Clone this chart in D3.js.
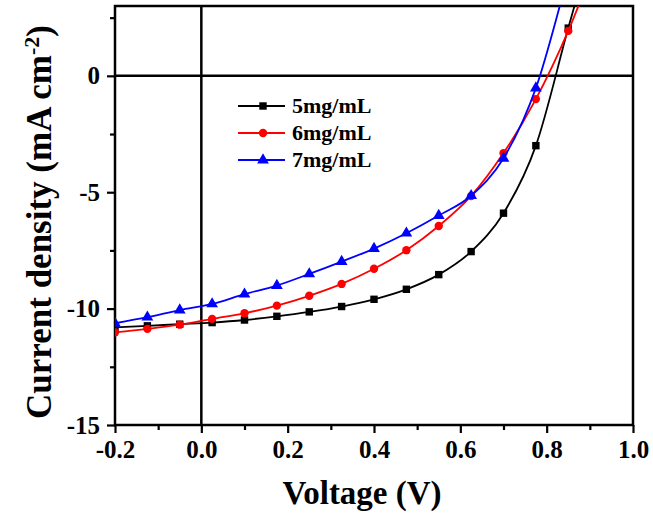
<!DOCTYPE html>
<html>
<head>
    <script type="text/javascript" src="https://cdn.jsdelivr.net/npm/d3@7/dist/d3.min.js" charset="utf-8"></script>
    <style>
        body { margin: 0; background: #fff; }
        text { font-family: "Liberation Serif", "Times New Roman", serif; font-weight: bold; }
    </style>
</head>
<body>
    <div id="viz"></div>
    <script type="text/javascript">
    //Data, voltage in V, current density in mA cm-2
    var voltage = [-0.2, -0.125, -0.05, 0.025, 0.1, 0.175, 0.25, 0.325, 0.4, 0.475, 0.55, 0.625, 0.7, 0.775, 0.85, 0.925];
    var j5 = [-10.81, -10.74, -10.67, -10.60, -10.49, -10.33, -10.14, -9.91, -9.60, -9.17, -8.54, -7.55, -5.90, -3.00, 2.05, 7.0];
    var j6 = [-11.02, -10.87, -10.69, -10.44, -10.20, -9.87, -9.45, -8.94, -8.29, -7.49, -6.45, -5.16, -3.32, -1.00, 1.93, 5.5];
    var j7 = [-10.63, -10.37, -10.06, -9.80, -9.38, -9.01, -8.51, -7.98, -7.42, -6.76, -6.00, -5.15, -3.54, -0.53, 4.3, 9.0];
    var seriesNames = ["5mg/mL", "6mg/mL", "7mg/mL"];
    var seriesColors = ["#000000", "#ff0000", "#0000ff"];
    var seriesSymbols = [d3.symbolSquare, d3.symbolCircle, d3.symbolTriangle];
    var xTicks = [-0.2, 0.0, 0.2, 0.4, 0.6, 0.8, 1.0];
    var yTicks = [0, -5, -10, -15];

    var width = 653;
    var height = 521;
    var margin = {left: 115, right: 20, top: 6, bottom: 96};

    var svg = d3.select("#viz").append("svg")
        .attr("width", width)
        .attr("height", height);

    var x = d3.scaleLinear().domain([-0.2, 1.0]).range([margin.left, width - margin.right]);
    var y = d3.scaleLinear().domain([-15, 3]).range([height - margin.bottom, margin.top]);

    svg.append("clipPath").attr("id", "plotClip")
        .append("rect")
        .attr("x", x(-0.2)).attr("y", y(3))
        .attr("width", x(1.0) - x(-0.2)).attr("height", y(-15) - y(3));

    //Minor ticks first, then major axes on top
    var minorX = d3.axisBottom(x).tickValues(d3.range(-0.1, 1.0, 0.2)).tickSize(5).tickFormat("");
    var minorY = d3.axisLeft(y).tickValues([2.5, -2.5, -7.5, -12.5]).tickSize(5).tickFormat("");
    svg.append("g").attr("class", "minor").attr("transform", "translate(0," + y(-15) + ")").call(minorX);
    svg.append("g").attr("class", "minor").attr("transform", "translate(" + x(-0.2) + ",0)").call(minorY);

    var fmtX = function(d) { return d3.format(".1f")(d).replace("\u2212", "-"); };
    var fmtY = function(d) { return String(d); };

    var xAxis = svg.append("g")
        .attr("transform", "translate(0," + y(-15) + ")")
        .call(d3.axisBottom(x).tickValues(xTicks).tickSize(8).tickSizeOuter(0).tickPadding(7).tickFormat(fmtX));
    var yAxis = svg.append("g")
        .attr("transform", "translate(" + x(-0.2) + ",0)")
        .call(d3.axisLeft(y).tickValues(yTicks).tickSize(8).tickSizeOuter(0).tickPadding(7).tickFormat(fmtY));

    svg.selectAll(".domain").remove();
    svg.selectAll(".tick line").attr("stroke", "#000").attr("stroke-width", 2.2);
    svg.selectAll(".tick text").attr("fill", "#000").style("font-size", "25px");

    //Frame
    svg.append("rect")
        .attr("x", x(-0.2)).attr("y", y(3))
        .attr("width", x(1.0) - x(-0.2)).attr("height", y(-15) - y(3))
        .attr("fill", "none").attr("stroke", "#000").attr("stroke-width", 2.5);

    //Zero lines
    svg.append("line")
        .attr("x1", x(-0.2)).attr("x2", x(1.0)).attr("y1", y(0)).attr("y2", y(0))
        .attr("stroke", "#000").attr("stroke-width", 2.5);
    svg.append("line")
        .attr("x1", x(0)).attr("x2", x(0)).attr("y1", y(3)).attr("y2", y(-15))
        .attr("stroke", "#000").attr("stroke-width", 2.5);

    //Series
    var allSeries = [j5, j6, j7];
    var line = d3.line()
        .x(function(d, i) { return x(voltage[i]); })
        .y(function(d) { return y(d); })
        .curve(d3.curveMonotoneX);

    var plot = svg.append("g").attr("clip-path", "url(#plotClip)");
    allSeries.forEach(function(s, k) {
        plot.append("path")
            .attr("d", line(s))
            .attr("fill", "none")
            .attr("stroke", seriesColors[k])
            .attr("stroke-width", 1.8);
        plot.selectAll(".m" + k)
            .data(s)
            .enter()
            .append("path")
            .attr("transform", function(d, i) { return "translate(" + x(voltage[i]) + "," + y(d) + ")"; })
            .attr("d", d3.symbol().type(seriesSymbols[k]).size(k == 2 ? 60 : 55))
            .attr("fill", seriesColors[k]);
    });

    //Legend
    var legend = svg.append("g");
    seriesNames.forEach(function(name, k) {
        var ly = 106 + k * 27;
        legend.append("line")
            .attr("x1", 238).attr("x2", 285).attr("y1", ly).attr("y2", ly)
            .attr("stroke", seriesColors[k]).attr("stroke-width", 1.8);
        legend.append("path")
            .attr("transform", "translate(263," + ly + ")")
            .attr("d", d3.symbol().type(seriesSymbols[k]).size(k == 2 ? 60 : 55))
            .attr("fill", seriesColors[k]);
        legend.append("text")
            .attr("x", 292).attr("y", ly + 7)
            .style("font-size", "22px")
            .text(name);
    });

    //Axis titles
    svg.append("text")
        .attr("x", 362).attr("y", 504)
        .attr("text-anchor", "middle")
        .style("font-size", "33px")
        .text("Voltage (V)");

    var yTitle = svg.append("text")
        .attr("transform", "translate(51,222) rotate(-90)")
        .attr("text-anchor", "middle")
        .style("font-size", "35px");
    yTitle.append("tspan").text("Current density (mA cm");
    yTitle.append("tspan").attr("baseline-shift", "super").style("font-size", "22px").text("-2");
    yTitle.append("tspan").text(")");
    </script>
</body>
</html>
